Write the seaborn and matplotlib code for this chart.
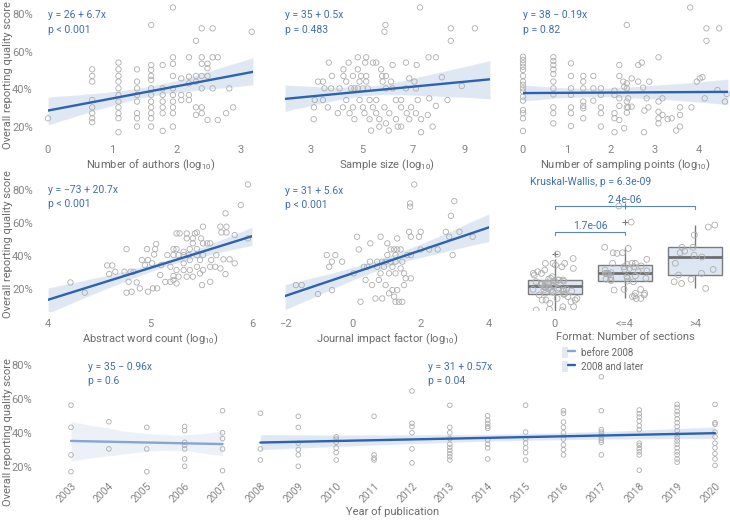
import numpy as np
import pandas as pd
import matplotlib
matplotlib.use("Agg")
import matplotlib.pyplot as plt
import seaborn as sns
from matplotlib.patches import Patch
from matplotlib.lines import Line2D
from matplotlib.legend_handler import HandlerTuple
from matplotlib.ticker import FixedLocator, FuncFormatter

# ---------------- data ----------------
authors_x = [0.00,
             0.69, 0.69, 0.69, 0.69, 0.69, 0.69, 0.69, 0.69,
             1.10, 1.10, 1.10, 1.10, 1.10, 1.10, 1.10, 1.10, 1.10, 1.10, 1.10,
             1.39, 1.39, 1.39, 1.39, 1.39, 1.39, 1.39, 1.39,
             1.61, 1.61, 1.61, 1.61, 1.61, 1.61, 1.61, 1.61, 1.61, 1.61, 1.61, 1.61,
             1.79, 1.79, 1.79, 1.79, 1.79, 1.79, 1.79,
             1.95, 1.95, 1.95, 1.95, 1.95, 1.95, 1.95, 1.95, 1.95, 1.95,
             2.08, 2.08, 2.08,
             2.20, 2.20, 2.20, 2.20, 2.20,
             2.31, 2.31, 2.31, 2.31, 2.31,
             2.40, 2.40, 2.40, 2.40, 2.40, 2.40, 2.40,
             2.49, 2.49, 2.49, 2.49,
             2.57, 2.57, 2.57,
             2.65, 2.65,
             2.78, 2.83, 2.89, 3.18]
authors_y = [24.6,
             50.6, 47.1, 44.1, 34.3, 30.4, 27.3, 24.6, 22.5,
             54.2, 50.6, 47.1, 44.1, 40.5, 37.0, 33.5, 30.4, 27.3, 24.6, 17.2,
             50.6, 44.1, 40.5, 37.0, 33.5, 27.3, 24.6, 20.2,
             74.2, 52.9, 50.3, 47.1, 45.0, 40.5, 37.0, 33.5, 30.4, 27.3, 24.6, 20.2,
             52.9, 40.5, 37.0, 33.5, 30.4, 27.3, 17.9,
             83.5, 57.0, 53.6, 47.1, 40.5, 37.0, 33.5, 30.4, 27.3, 20.2,
             45.8, 37.0, 34.3,
             57.0, 46.7, 43.2, 37.0, 34.3,
             65.8, 47.1, 44.1, 30.4, 26.4,
             72.4, 57.0, 53.6, 47.1, 40.5, 30.4, 27.3,
             53.6, 51.2, 47.1, 23.7,
             72.4, 57.0, 40.5,
             57.0, 23.7,
             27.3, 40.5, 30.4, 70.6]

sample_x = [7.27, 5.92, 5.88, 8.47, 9.41, 8.47, 3.71, 4.48, 4.84, 5.17, 5.13, 5.43, 5.56,
            6.20, 6.72, 7.14, 7.60, 7.89, 4.28, 4.84, 5.75, 3.83, 4.28, 4.65, 4.97, 5.17,
            5.79, 5.94, 6.85, 3.29, 3.48, 4.39, 4.91, 5.17, 5.81, 6.14, 7.05, 8.12,
            3.54, 3.80, 4.13, 4.58, 4.71, 4.84, 5.04, 5.23, 5.94, 6.20, 6.72, 7.11, 8.90,
            3.16, 3.48, 4.39, 4.91, 5.30, 5.56, 6.33, 6.53, 7.18, 8.34, 7.63,
            3.13, 3.67, 4.26, 4.65, 5.04, 5.43, 5.88, 6.53, 6.92, 7.89,
            4.06, 4.52, 5.10, 5.56, 6.07, 6.75, 7.11, 7.57,
            3.12, 4.71, 5.30, 5.68, 6.33, 6.85, 7.31,
            5.68, 5.94, 6.40, 6.53, 7.76, 5.36, 6.05, 7.31]
sample_y = [83.5, 74.2, 70.6, 72.4, 72.4, 65.8, 54.2, 54.2, 57.0, 57.0, 54.2, 54.2, 54.2,
            52.9, 54.2, 52.9, 57.0, 57.0, 50.6, 50.6, 50.6, 47.1, 47.1, 47.1, 47.1, 47.1,
            47.1, 47.1, 45.8, 44.1, 44.1, 44.1, 44.1, 44.1, 44.1, 44.1, 44.1, 46.4,
            40.5, 40.5, 40.5, 40.5, 40.5, 40.5, 40.5, 40.5, 40.5, 40.5, 40.5, 40.5, 41.8,
            34.3, 34.3, 34.3, 34.3, 34.3, 34.3, 34.3, 34.3, 34.3, 34.3, 35.2,
            30.4, 30.4, 30.4, 30.4, 30.4, 30.4, 30.4, 30.4, 30.4, 31.2,
            27.3, 27.3, 27.3, 27.3, 27.3, 27.3, 27.3, 26.4,
            24.1, 24.1, 24.1, 24.1, 24.1, 24.1, 24.1,
            20.2, 21.9, 20.2, 20.2, 20.2, 18.1, 18.1, 17.2]

sampling_x = [0.00, 0.00, 0.00, 0.00, 0.00, 0.00, 0.00, 0.00, 0.00, 0.00, 0.00, 0.00, 0.00, 0.00, 0.00, 0.00,
              0.69, 0.69, 0.69, 0.69, 0.69, 0.69, 0.69, 0.69, 0.69, 0.69, 0.69,
              1.09, 1.09, 1.09, 1.09, 1.09, 1.09, 1.09,
              1.37, 1.37, 1.37, 1.37, 1.37, 1.37, 1.37,
              1.60, 1.60, 1.60,
              1.77, 1.77, 1.77, 1.77, 1.77,
              2.08, 2.08, 2.08, 2.08, 2.08,
              2.19, 2.19, 2.19, 2.19, 2.19,
              2.36, 2.36, 2.36, 2.36, 2.36, 2.36,
              2.47, 2.47, 2.28, 2.30, 2.30, 2.39, 2.39,
              2.62, 2.70, 2.62, 2.73, 2.81, 2.85, 2.76, 2.87, 2.75,
              3.08, 3.08, 3.08, 3.08, 3.08, 3.17, 3.17, 3.29, 3.38, 3.48, 3.57, 3.57, 3.57,
              3.83, 3.95, 4.02, 4.08, 4.13, 4.17, 4.46, 4.17, 4.42, 4.59, 4.63, 3.80]
sampling_y = [57.3, 55.6, 53.8, 52.0, 50.3, 47.1, 44.1, 42.4, 40.5, 38.8, 36.1, 34.0, 29.0, 27.3, 24.6, 17.9,
              57.0, 55.0, 52.9, 50.6, 48.1, 44.1, 40.5, 37.3, 30.4, 27.3, 21.9,
              53.8, 47.1, 40.5, 37.0, 30.4, 27.3, 20.5,
              47.1, 44.1, 40.5, 33.5, 31.2, 29.9, 24.6,
              47.1, 40.5, 34.0,
              40.5, 37.0, 30.4, 27.3, 20.2,
              39.3, 37.0, 27.3, 24.6, 17.2,
              52.9, 47.1, 35.2, 31.2, 23.7,
              74.2, 43.2, 40.5, 33.5, 30.4, 27.6,
              45.8, 30.8, 44.1, 41.4, 19.3, 35.2, 30.4,
              52.9, 54.2, 44.1, 40.9, 35.2, 30.4, 28.7, 44.1, 17.2,
              57.0, 33.5, 28.1, 24.6, 21.9, 35.2, 26.4, 24.1, 24.6, 18.1, 20.2, 30.4, 26.4,
              30.4, 44.1, 45.8, 46.4, 35.2, 72.4, 72.4, 65.8, 39.6, 33.5, 37.5, 83.5]

abstract_x = [5.96, 5.89, 5.74,
              4.22, 4.36, 4.58, 4.63, 4.60, 4.66, 4.77, 4.75, 4.81, 4.84, 4.79, 4.87, 4.77, 4.82,
              4.90, 4.98, 5.03, 5.07, 4.92, 4.98, 5.02, 4.95, 4.97, 5.05, 5.04, 5.06, 5.10, 5.15,
              5.20, 5.23, 5.26, 5.17, 5.23, 5.28, 5.33, 5.38, 5.46, 5.52, 5.23, 5.26, 5.33, 5.39,
              5.46, 5.26, 5.29, 5.36, 5.44, 5.46, 5.36, 5.42, 5.50, 5.42, 5.52, 5.56, 5.59, 5.52,
              5.69, 5.75, 5.75, 5.70, 5.83, 5.11, 5.20, 5.26, 5.33, 5.39, 5.46, 5.52, 5.59, 5.64,
              5.69, 5.72, 5.65, 5.60, 5.49, 5.39, 5.33, 5.36, 5.42, 5.49, 5.23, 5.28, 5.59, 5.51,
              5.74, 5.83, 5.78, 5.96]
abstract_y = [83.4, 70.9, 65.9,
              24.0, 17.8, 34.3, 34.3, 29.1, 30.5, 44.2, 30.5, 30.5, 30.5, 24.4, 24.0, 17.8, 18.4,
              20.4, 18.4, 20.4, 20.4, 37.6, 37.6, 35.6, 34.5, 44.2, 44.2, 41.0, 47.3, 28.5, 24.4,
              24.4, 25.5, 23.4, 40.6, 40.6, 40.6, 40.6, 40.6, 40.6, 40.6, 44.2, 44.2, 42.6, 44.2,
              44.2, 53.7, 53.7, 53.7, 53.7, 54.3, 50.7, 50.7, 50.7, 47.7, 47.7, 47.7, 47.7, 57.8,
              57.8, 57.8, 54.3, 54.3, 52.7, 34.5, 33.5, 31.5, 31.5, 31.5, 33.5, 31.5, 33.5, 33.5,
              32.5, 38.0, 40.6, 37.6, 37.6, 37.6, 35.6, 27.5, 27.5, 29.5, 27.9, 27.5, 24.4, 22.4,
              29.1, 35.6, 38.0, 50.7]

impact_x = [1.80, 2.98, 1.68, 1.68, 2.88,
            -1.68, -1.51, -1.03, -0.62, -0.77, -0.52, -0.62, -0.32, -0.70, 0.02, 0.17, 0.32,
            0.42, 0.71, 0.50, 0.71, 0.86, 0.96, 1.11, 1.25, 0.12, 0.81, 0.51, 1.01, 1.30, 1.21,
            1.30, 1.40, 1.60, 1.70, 1.11, 1.01, 1.25, 1.45, 1.65, 1.99, 1.94, 1.70, 2.73, 3.13,
            2.83, 1.99, 2.24, 2.49, 2.93, 3.52, 0.37, 0.56, 0.76, 0.96, 1.16, 1.30, 1.50, 1.55,
            1.70, 1.50, 1.40, 1.25, 1.06, 0.81, 0.91, 1.16, 0.22, 0.66, 0.86, 1.06, 1.25, 1.35,
            1.45, 1.21]
impact_y = [83.4, 73.3, 71.9, 69.9, 64.4,
            22.4, 22.4, 17.0, 19.4, 40.6, 40.6, 36.6, 36.6, 33.5, 29.5, 44.0, 33.5,
            33.5, 33.5, 36.6, 36.6, 36.6, 36.6, 36.6, 36.6, 51.7, 51.7, 47.7, 47.7, 50.7, 44.0,
            44.0, 44.0, 40.6, 40.6, 44.0, 40.6, 40.6, 36.6, 54.7, 54.7, 51.7, 51.7, 54.7, 54.7,
            51.7, 44.0, 44.0, 44.0, 40.6, 51.7, 25.5, 22.4, 25.5, 22.4, 19.4, 19.4, 22.4, 26.5,
            26.5, 29.5, 32.5, 29.5, 29.5, 29.5, 33.5, 33.5, 12.3, 14.3, 14.3, 17.4, 12.3, 12.3,
            12.3, 15.4]

format_labels = ["0", "<=4", ">4"]
format_0 = [41.2, 35.6, 35.6, 34.5, 38.5, 32.5, 30.5, 29.5, 28.5, 27.5, 29.5, 35.6, 33.5, 31.5,
            25.5, 25.5, 19.8, 19.8, 19.4, 19.4, 23.4, 19.4, 18.4, 16.4, 14.3, 15.4, 13.3, 13.3,
            11.3, 13.3, 14.3, 9.3, 9.3, 12.3, 7.7, 7.3, 6.9, 25.5, 23.4, 23.4, 26.5, 22.4, 21.4,
            17.5, 18.0, 18.8, 20.5, 21.0, 21.8, 22.0, 22.8, 23.0, 24.0, 24.5, 25.0, 26.0, 17.0,
            20.0, 16.8, 24.8, 21.2, 19.0, 23.8]
format_le4 = [44.6, 41.6, 42.0, 45.3, 42.0, 38.0, 35.6, 33.5, 35.6, 35.6, 33.5, 32.5, 31.5,
              29.5, 29.9, 29.1, 29.5, 29.5, 26.5, 25.5, 26.5, 24.4, 27.5, 15.8, 19.4, 17.4, 19.8,
              17.4, 19.8, 14.3, 14.3, 15.4, 16.4, 60.6, 70.3, 24.8, 25.2, 27.0, 28.0, 30.5, 31.0,
              34.0, 34.8, 26.0, 32.0]
format_gt4 = [58.8, 57.6, 52.7, 45.3, 45.3, 42.0, 35.6, 31.9, 29.5, 28.5, 25.9, 24.4, 23.4,
              20.4, 39.4, 40.5, 43.0]

pub_year = [2003, 2003, 2003, 2003,
            2004, 2004,
            2005, 2005, 2005,
            2006, 2006, 2006, 2006, 2006, 2006, 2006,
            2007, 2007, 2007, 2007, 2007,
            2008, 2008, 2008,
            2009, 2009, 2009, 2009, 2009, 2009,
            2010, 2010, 2010, 2010, 2010, 2010,
            2011, 2011, 2011, 2011,
            2012, 2012, 2012, 2012, 2012, 2012,
            2013, 2013, 2013, 2013, 2013, 2013, 2013, 2013, 2013, 2013,
            2014, 2014, 2014, 2014, 2014, 2014, 2014, 2014, 2014,
            2015, 2015, 2015, 2015, 2015, 2015, 2015,
            2016, 2016, 2016, 2016, 2016, 2016, 2016, 2016, 2016,
            2017, 2017, 2017, 2017, 2017, 2017, 2017, 2017, 2017,
            2018, 2018, 2018, 2018, 2018, 2018, 2018, 2018, 2018, 2018, 2018, 2018,
            2019, 2019, 2019, 2019, 2019, 2019, 2019, 2019, 2019, 2019, 2019, 2019, 2019, 2019, 2019, 2019, 2019,
            2020, 2020, 2020, 2020, 2020, 2020, 2020, 2020, 2020, 2020]
pub_score = [56.3, 43.3, 27.1, 17.2,
             46.6, 30.6,
             43.3, 30.6, 17.2,
             43.8, 41.4, 34.5, 32.7, 30.6, 24.7, 20.4,
             53.1, 40.1, 36.7, 30.6, 17.8,
             51.6, 30.6, 24.1,
             49.8, 43.3, 34.0, 30.2, 27.1, 20.4,
             37.7, 36.4, 34.5, 31.2, 28.4, 24.1,
             49.8, 27.1, 25.2, 24.1,
             64.7, 45.7, 43.8, 40.1, 30.6, 22.4,
             56.3, 43.3, 40.1, 36.7, 33.4, 31.5, 29.7, 27.8, 26.0, 24.1,
             50.1, 47.5, 45.7, 43.8, 42.7, 35.8, 33.4, 31.2, 24.7,
             56.3, 40.5, 36.7, 34.0, 31.2, 28.4, 24.1,
             53.1, 51.6, 46.4, 43.3, 40.1, 36.4, 33.0, 30.2, 27.1,
             73.0, 53.1, 42.0, 40.5, 38.6, 37.1, 35.8, 34.5, 27.1,
             53.5, 51.3, 49.4, 47.0, 44.2, 42.0, 34.0, 32.7, 30.8, 28.9, 27.1, 18.1,
             56.8, 55.0, 52.6, 50.7, 48.3, 46.0, 43.8, 41.4, 39.0, 37.1, 35.3, 33.4, 31.2, 28.9, 27.1, 24.7, 22.8,
             56.8, 46.0, 45.1, 40.5, 37.7, 34.0, 31.2, 27.8, 24.7, 20.9]

# ---------------- style ----------------
sns.set_theme(style="white")
plt.rcParams["font.family"] = ["Roboto", "DejaVu Sans"]
plt.rcParams["mathtext.fontset"] = "custom"
plt.rcParams["mathtext.rm"] = "Roboto"
plt.rcParams["mathtext.it"] = "Roboto"
plt.rcParams["mathtext.default"] = "regular"

PT = "#adadad"
DARK = "#2d62ae"
LIGHT = "#86a5d3"
TBLUE = "#3f6fb0"
TICK = "#858585"
LAB = "#6b6b6b"
BOXFILL = "#dde6f3"
BOXLINE = "#7b7b7b"

W, H = 730, 521
fig = plt.figure(figsize=(7.3, 5.21), dpi=100)


def rect(x0, y0, x1, y1):
    return [x0 / W, 1 - y1 / H, (x1 - x0) / W, (y1 - y0) / H]


def ftext(px, py, s, **kw):
    fig.text(px / W, 1 - py / H, s, **kw)


pct = FuncFormatter(lambda v, p: f"{v:.0f}%")


def style_ax(ax, xticks, ylabels, xpad, ypad):
    for sp in ax.spines.values():
        sp.set_visible(False)
    ax.xaxis.set_major_locator(FixedLocator(xticks))
    ax.yaxis.set_major_locator(FixedLocator([20, 40, 60, 80]))
    ax.yaxis.set_major_formatter(pct)
    ax.tick_params(axis="x", length=0, pad=xpad, labelsize=8, labelcolor=TICK)
    ax.tick_params(axis="y", length=0, pad=ypad, labelsize=8, labelcolor=TICK)
    if not ylabels:
        ax.set_yticklabels([])
    ax.grid(False)
    ax.set_facecolor("none")


def reg(ax, x, y, color, truncate=False, s=15):
    sns.regplot(x=np.asarray(x, float), y=np.asarray(y, float), ax=ax, ci=95, seed=1,
                truncate=truncate, color=color,
                scatter_kws=dict(s=s, facecolors="none", edgecolors=PT, linewidths=0.6,
                                 alpha=1, clip_on=False, zorder=2),
                line_kws=dict(color=color, lw=1.7, zorder=3))


eq_kw = dict(fontsize=7.5, color=TBLUE, ha="left", va="center")

# ---------------- row 1 ----------------
r1 = (2, 142)
ylim1 = (12.0, 86.4)
ax = fig.add_axes(rect(48, r1[0], 253, r1[1]))
ax.set_xlim(0, 3.2); ax.set_ylim(*ylim1)
reg(ax, authors_x, authors_y, DARK)
style_ax(ax, [0, 1, 2, 3], True, 2, 11)
ax.set_xlabel("Number of authors (log$_{10}$)", fontsize=8, color=LAB, labelpad=2)
ax.set_ylabel("")
ftext(48, 15, "y = 26 + 6.7x", **eq_kw)
ftext(48, 30, "p < 0.001", **eq_kw)

ax = fig.add_axes(rect(285, r1[0], 490, r1[1]))
ax.set_xlim(2, 10); ax.set_ylim(*ylim1)
reg(ax, sample_x, sample_y, DARK)
style_ax(ax, [3, 5, 7, 9], False, 2, 11)
ax.set_xlabel("Sample size (log$_{10}$)", fontsize=8, color=LAB, labelpad=2)
ax.set_ylabel("")
ftext(285, 15, "y = 35 + 0.5x", **eq_kw)
ftext(285, 30, "p = 0.483", **eq_kw)

ax = fig.add_axes(rect(523, r1[0], 728, r1[1]))
ax.set_xlim(0, 4.66); ax.set_ylim(*ylim1)
reg(ax, sampling_x, sampling_y, DARK)
style_ax(ax, [0, 1, 2, 3, 4], False, 2, 11)
ax.set_xlabel("Number of sampling points (log$_{10}$)", fontsize=8, color=LAB, labelpad=2)
ax.set_ylabel("")
ftext(523, 15, "y = 38 \u2212 0.19x", **eq_kw)
ftext(523, 30, "p = 0.82", **eq_kw)

# ---------------- row 2 ----------------
r2 = (178, 311)
ylim2 = (6.7, 87.3)
ax = fig.add_axes(rect(48, r2[0], 252, r2[1]))
ax.set_xlim(4, 6); ax.set_ylim(*ylim2)
reg(ax, abstract_x, abstract_y, DARK)
style_ax(ax, [4, 5, 6], True, 6, 11)
ax.set_xlabel("Abstract word count (log$_{10}$)", fontsize=8, color=LAB, labelpad=2)
ax.set_ylabel("")
ftext(48, 190, "y = \u221273 + 20.7x", **eq_kw)
ftext(48, 204, "p < 0.001", **eq_kw)

ax = fig.add_axes(rect(285, r2[0], 489, r2[1]))
ax.set_xlim(-2, 4); ax.set_ylim(*ylim2)
reg(ax, impact_x, impact_y, DARK)
style_ax(ax, [-2, 0, 2, 4], False, 6, 11)
ax.set_xlabel("Journal impact factor (log$_{10}$)", fontsize=8, color=LAB, labelpad=2)
ax.set_ylabel("")
ftext(285, 191, "y = 31 + 5.6x", **eq_kw)
ftext(285, 205, "p < 0.001", **eq_kw)

# box panel
fmt_df = pd.DataFrame({
    "fmt": ["0"] * len(format_0) + ["<=4"] * len(format_le4) + [">4"] * len(format_gt4),
    "score": format_0 + format_le4 + format_gt4,
})
axb = fig.add_axes(rect(520, r2[0], 730, r2[1]))
sns.boxplot(data=fmt_df, x="fmt", y="score", order=format_labels, ax=axb, color=BOXFILL,
            saturation=1, width=0.77, linecolor=BOXLINE, linewidth=1.0, showcaps=False,
            medianprops=dict(color="#6e6e6e", linewidth=2.0),
            flierprops=dict(marker="+", markersize=5, markeredgecolor=BOXLINE, markeredgewidth=0.8))
np.random.seed(3)
n_before = len(axb.collections)
sns.stripplot(data=fmt_df, x="fmt", y="score", order=format_labels, ax=axb, jitter=0.33,
              size=4.2, color=PT, zorder=4)
for coll in axb.collections[n_before:]:
    coll.set_facecolor("none")
    coll.set_edgecolor(PT)
    coll.set_linewidth(0.6)
axb.set_xlim(-0.5, 2.5); axb.set_ylim(*ylim2)
style_ax(axb, [0, 1, 2], False, 6, 11)
axb.set_xticks([0, 1, 2]); axb.set_xticklabels(format_labels)
axb.set_xlabel("Format: Number of sections", fontsize=8, color=LAB, labelpad=2)
axb.set_ylabel("")
axb.text(-0.36, 84.8, "Kruskal-Wallis, p = 6.3e-09", fontsize=7.5, color=TBLUE, ha="left", va="center")
BR = "#5a86c0"
axb.plot([0, 0, 1, 1], [52.7, 54.5, 54.5, 52.7], color=BR, lw=0.8)
axb.text(0.5, 55.4, "1.7e-06", fontsize=7.5, color=TBLUE, ha="center", va="bottom")
axb.plot([0, 0, 2, 2], [68.5, 70.3, 70.3, 68.5], color=BR, lw=0.8)
axb.text(1.0, 71.2, "2.4e-06", fontsize=7.5, color=TBLUE, ha="center", va="bottom")

# ---------------- row 3 ----------------
axy = fig.add_axes(rect(67.2, 350, 718.8, 478))
axy.set_xlim(2002.9, 2020.1); axy.set_ylim(13.5, 88.8)
yr = np.asarray(pub_year)
sc = np.asarray(pub_score)
early = yr < 2008
reg(axy, yr[early], sc[early], LIGHT, truncate=True, s=11)
reg(axy, yr[~early], sc[~early], DARK, truncate=True, s=11)
style_ax(axy, list(range(2003, 2021)), True, 2, 25)
axy.tick_params(axis="x", labelsize=7.5)
axy.set_xticklabels([str(v) for v in range(2003, 2021)], rotation=45, ha="right",
                    rotation_mode="anchor")
axy.set_xlabel("Year of publication", fontsize=8, color=LAB, labelpad=1)
axy.set_ylabel("")
ftext(88, 367, "y = 35 \u2212 0.96x", **eq_kw)
ftext(88, 381, "p = 0.6", **eq_kw)
ftext(428, 367, "y = 31 + 0.57x", **eq_kw)
ftext(428, 381, "p = 0.04", **eq_kw)

h1 = (Patch(facecolor="#e2e9f4", edgecolor="none"), Line2D([], [], color=LIGHT, lw=1.7))
h2 = (Patch(facecolor="#e2e9f4", edgecolor="none"), Line2D([], [], color=DARK, lw=1.7))
leg = axy.legend([h1, h2], ["before 2008", "2008 and later"],
                 handler_map={tuple: HandlerTuple(ndivide=None, pad=0)},
                 loc="upper left", bbox_to_anchor=(562 / W, 1 - 347 / H),
                 bbox_transform=fig.transFigure, frameon=False, fontsize=7,
                 handlelength=1.3, handleheight=1.3, labelspacing=0.35,
                 handletextpad=0.7, borderpad=0, borderaxespad=0)
for t in leg.get_texts():
    t.set_color("#666666")

# y-axis titles
for cy in (75, 244, 432):
    ftext(8, cy, "Overall reporting quality score", fontsize=8, color=LAB, rotation=90,
          ha="center", va="center")

fig.savefig("out.png", dpi=100)
